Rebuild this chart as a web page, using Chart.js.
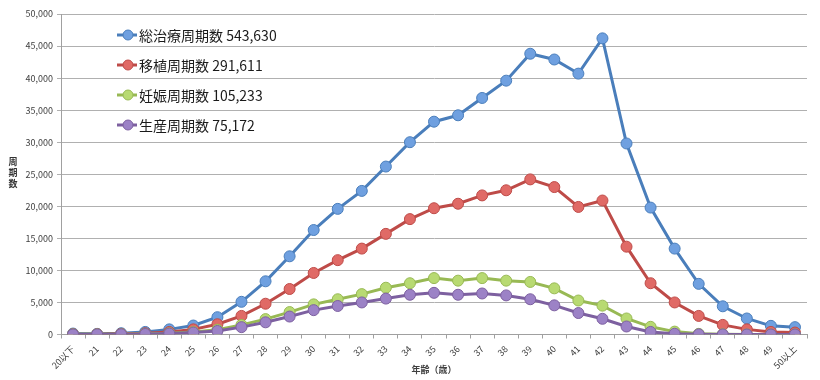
<!DOCTYPE html>
<html><head><meta charset="utf-8">
<script src="https://cdn.jsdelivr.net/npm/chart.js@4/dist/chart.umd.min.js"></script>
<style>
html,body{margin:0;padding:0;background:#fff}
#wrap{width:820px;height:380px;position:relative}
#ytitle{position:absolute;left:7px;top:156px;width:12px;text-align:center;font:bold 9px 'Noto Sans CJK JP','Noto Sans',sans-serif;line-height:11px;color:#333}
</style>
</head><body><div id="wrap"><canvas id="c"></canvas><div id="ytitle"></div></div>
<script>
const ageLabels = ['20以下','21','22','23','24','25','26','27','28','29','30','31','32','33','34','35','36','37','38','39','40','41','42','43','44','45','46','47','48','49','50以上'];
const totalCycles     = [150,100,200,400,800,1400,2700,5100,8300,12200,16300,19600,22400,26200,30000,33200,34200,36900,39600,43800,42900,40700,46200,29800,19800,13400,7900,4400,2500,1350,1150];
const transferCycles  = [50,50,100,200,400,800,1600,2900,4800,7100,9600,11600,13400,15700,18000,19700,20400,21700,22500,24200,23000,19900,20900,13700,8000,5000,2900,1500,800,400,300];
const pregnancyCycles = [20,20,50,100,200,400,750,1500,2400,3500,4700,5500,6300,7300,8000,8800,8400,8800,8400,8200,7200,5300,4500,2500,1200,450,100,30,10,0,0];
const birthCycles     = [10,15,40,80,150,300,550,1150,1900,2800,3800,4450,5000,5600,6200,6500,6200,6400,6100,5500,4550,3350,2450,1250,400,120,30,10,0,0,0];
const seriesNames  = ['総治療周期数','移植周期数','妊娠周期数','生産周期数'];
const seriesTotals = ['543,630','291,611','105,233','75,172'];
const yTitleChars  = ['周','期','数'];
const xTitle = '年齢（歳）';

const lineColors  = ['#4a7ebb','#be4b48','#98b954','#7d60a0'];
const pointColors = ['#6fa0e0','#e06a66','#b8da72','#9c82c6'];
const FONT = "'Noto Sans CJK JP','Noto Sans',sans-serif";

yTitleChars.forEach(ch => {
  const d = document.createElement('div');
  d.textContent = ch;
  document.getElementById('ytitle').appendChild(d);
});

const seriesData = [totalCycles, transferCycles, pregnancyCycles, birthCycles];
const datasets = seriesData.map((d, i) => ({
  label: seriesNames[i] + ' ' + seriesTotals[i],
  data: d,
  borderColor: lineColors[i],
  backgroundColor: pointColors[i],
  pointBackgroundColor: pointColors[i],
  pointBorderColor: lineColors[i],
  pointBorderWidth: 1,
  pointRadius: 5.5,
  borderWidth: 3,
  tension: 0,
  order: 4 - i
}));

const legendPlugin = {
  id: 'customLegend',
  afterDatasetsDraw(chart) {
    const ctx = chart.ctx;
    ctx.save();
    const x0 = 117, rowY = [35, 65, 95, 125];
    chart.data.datasets.forEach((ds, i) => {
      const y = rowY[i];
      ctx.strokeStyle = ds.borderColor;
      ctx.lineWidth = 3;
      ctx.beginPath(); ctx.moveTo(x0, y); ctx.lineTo(x0 + 20, y); ctx.stroke();
      ctx.fillStyle = ds.pointBackgroundColor;
      ctx.beginPath(); ctx.arc(x0 + 11, y, 5, 0, Math.PI * 2); ctx.fill();
      ctx.lineWidth = 1; ctx.stroke();
      ctx.fillStyle = '#1a1a1a';
      ctx.font = '14px ' + FONT;
      ctx.textBaseline = 'middle';
      ctx.textAlign = 'left';
      ctx.fillText(ds.label, x0 + 22, y + 1);
    });
    ctx.restore();
  }
};

new Chart(document.getElementById('c'), {
  type: 'line',
  data: { labels: ageLabels, datasets },
  options: {
    responsive: true,
    maintainAspectRatio: false,
    animation: false,
    devicePixelRatio: 1,
    layout: { padding: { top: 14, right: 13, left: 0, bottom: 0 } },
    plugins: { legend: { display: false }, tooltip: { enabled: false } },
    scales: {
      x: {
        offset: true,
        grid: { display: true, drawOnChartArea: false, drawTicks: true, tickLength: 4, offset: true, color: '#a0a0a0' },
        border: { color: '#a0a0a0' },
        ticks: { minRotation: 45, maxRotation: 45, autoSkip: false, color: '#404040', font: { size: 9, family: FONT }, padding: 5 },
        title: { display: true, text: xTitle, color: '#404040', font: { size: 9, family: FONT, weight: 'bold' }, padding: { top: 0, bottom: 5 } },
        afterFit(scale) { scale.height = 45.5; }
      },
      y: {
        min: 0, max: 50000,
        ticks: { stepSize: 5000, color: '#404040', font: { size: 9, family: FONT }, padding: 4,
          callback: v => v.toLocaleString('en-US') },
        grid: { color: '#b0b0b0', tickLength: 4 },
        border: { color: '#a0a0a0' },
        afterFit(scale) { scale.width = 61; }
      }
    }
  },
  plugins: [legendPlugin]
});
</script>
</body></html>
